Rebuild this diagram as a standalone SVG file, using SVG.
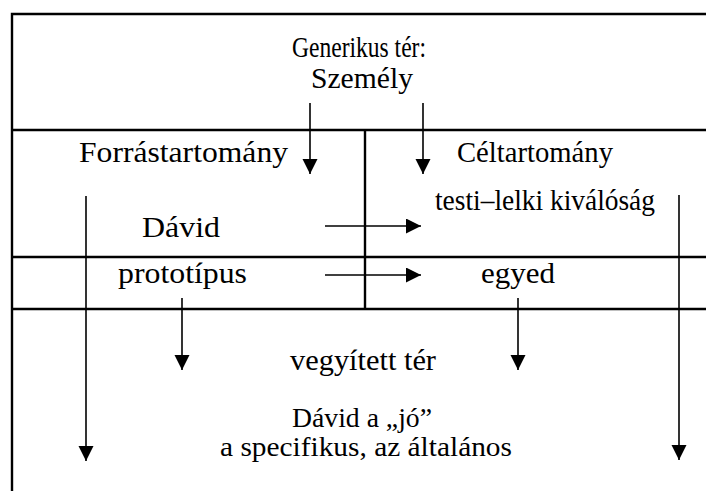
<svg xmlns="http://www.w3.org/2000/svg" width="706" height="491" viewBox="0 0 706 491">
<style>
.frame{stroke:#000;stroke-width:2.4;fill:none}
.conn{stroke:#000;stroke-width:1.6;fill:none;marker-end:url(#ah)}
text{font-family:"Liberation Serif","Times New Roman",serif;font-size:30px;fill:#000;text-anchor:middle}
.sm{font-size:28px}
</style>
<defs>
<marker id="ah" markerUnits="userSpaceOnUse" markerWidth="16" markerHeight="16" refX="15" refY="7.5" orient="auto">
<path d="M0,0 L15,7.5 L0,15 z" fill="#000"/>
</marker>
</defs>
<rect width="706" height="491" fill="#fff"/>
<g id="frame">
<path class="frame" d="M12,491 V14 H706"/>
<path class="frame" d="M12,130 H706 M12,257 H706 M12,309 H706 M365,130 V309"/>
</g>
<g id="generic"><text x="359" y="57" style="font-size:29px" textLength="134" lengthAdjust="spacingAndGlyphs">Generikus tér:</text><text x="362" y="88" textLength="102" lengthAdjust="spacingAndGlyphs">Személy</text></g>
<g id="source"><text x="183.5" y="162" textLength="209" lengthAdjust="spacingAndGlyphs">Forrástartomány</text></g>
<g id="target"><text x="535" y="162" textLength="156" lengthAdjust="spacingAndGlyphs">Céltartomány</text></g>
<g id="david"><text x="181" y="237" textLength="78" lengthAdjust="spacingAndGlyphs">Dávid</text></g>
<g id="testi"><text x="545" y="210" textLength="220" lengthAdjust="spacingAndGlyphs">testi–lelki kiválóság</text></g>
<g id="proto"><text x="182.5" y="283" textLength="129" lengthAdjust="spacingAndGlyphs">prototípus</text></g>
<g id="egyed"><text x="518" y="283" textLength="74" lengthAdjust="spacingAndGlyphs">egyed</text></g>
<g id="blend"><text x="363" y="370" textLength="146" lengthAdjust="spacingAndGlyphs">vegyített tér</text><text class="sm" x="362" y="427" textLength="140" lengthAdjust="spacingAndGlyphs">Dávid a „jó”</text><text class="sm" x="366" y="456" textLength="292" lengthAdjust="spacingAndGlyphs">a specifikus, az általános</text></g>
<g id="connectors">
<line class="conn" x1="310" y1="103" x2="310" y2="174"/>
<line class="conn" x1="423" y1="103" x2="423" y2="174"/>
<line class="conn" x1="325" y1="226" x2="421" y2="226"/>
<line class="conn" x1="325" y1="275" x2="421" y2="275"/>
<line class="conn" x1="182" y1="298" x2="182" y2="370"/>
<line class="conn" x1="518" y1="298" x2="518" y2="370"/>
<line class="conn" x1="86" y1="196" x2="86" y2="461"/>
<line class="conn" x1="679" y1="195" x2="679" y2="460"/>
</g>
</svg>
